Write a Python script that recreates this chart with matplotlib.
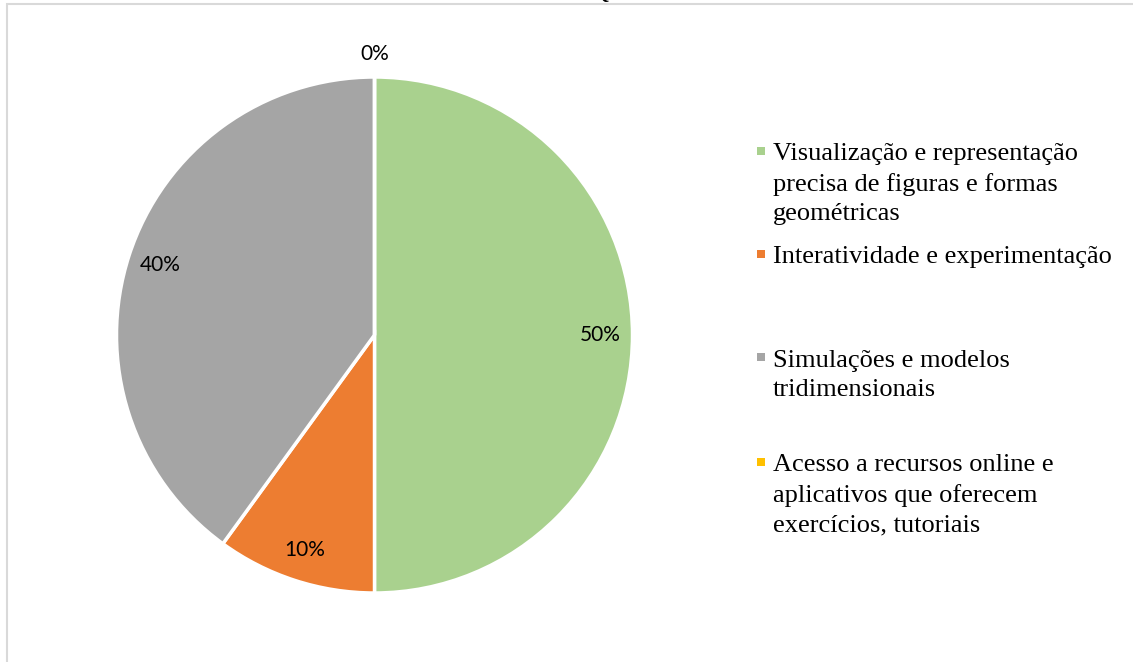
import matplotlib
matplotlib.use("Agg")
import matplotlib.pyplot as plt
from matplotlib.patches import Rectangle
import numpy as np

categories = [
    "Visualização e representação\nprecisa de figuras e formas\ngeométricas",
    "Interatividade e experimentação",
    "Simulações e modelos\ntridimensionais",
    "Acesso a recursos online e\naplicativos que oferecem\nexercícios, tutoriais",
]
values = [50, 10, 40, 0]
colors = ["#A9D18E", "#ED7D31", "#A5A5A5", "#FFC000"]
legend_y_px = [151, 254, 357, 462]   # legend entry positions (px from top)

W, H = 1133, 662
fig = plt.figure(figsize=(W / 100, H / 100), dpi=100)
fig.patch.set_facecolor("white")

# outer chart frame
fig.patches.append(Rectangle((7 / W, -0.01), 1.02, (H - 4) / H + 0.01,
                             transform=fig.transFigure, fill=False,
                             edgecolor="#D9D9D9", linewidth=1.5))

# clipped title remnant
fig.text(600 / W, 1 - 3 / H, "Q", ha="center", va="bottom",
         family="Liberation Serif", fontsize=18, color="black")

cx, cy, r = 374.5, 335, 258
ax = fig.add_axes([(cx - r) / W, (H - cy - r) / H, 2 * r / W, 2 * r / H])
wedges, texts, autotexts = ax.pie(
    values, colors=colors, startangle=90, counterclock=False,
    autopct=lambda p: f"{p:.0f}%", pctdistance=0.875,
    wedgeprops=dict(edgecolor="white", linewidth=2.5),
    textprops=dict(family="Lato", fontsize=15, color="black"))
ax.set_xlim(-1, 1)
ax.set_ylim(-1, 1)
ax.set_aspect("auto")
ax.axis("off")

# zero-valued slice label placed just outside the pie
for w, t, v in zip(wedges, autotexts, values):
    if v == 0:
        ang = np.deg2rad((w.theta1 + w.theta2) / 2)
        t.set_position((1.09 * np.cos(ang), 1.09 * np.sin(ang)))

# legend
line_px = 30
for lab, col, y in zip(categories, colors, legend_y_px):
    fig.patches.append(Rectangle((757 / W, 1 - (y + 4) / H), 8 / W, 8 / H,
                                 transform=fig.transFigure, facecolor=col,
                                 edgecolor="none"))
    n = lab.count("\n")
    fig.text(773 / W, 1 - (y + 9 + n * line_px) / H, lab, ha="left",
             va="baseline", family="Liberation Serif", fontsize=19,
             color="black", linespacing=1.42)

fig.savefig("out.png", dpi=100)
